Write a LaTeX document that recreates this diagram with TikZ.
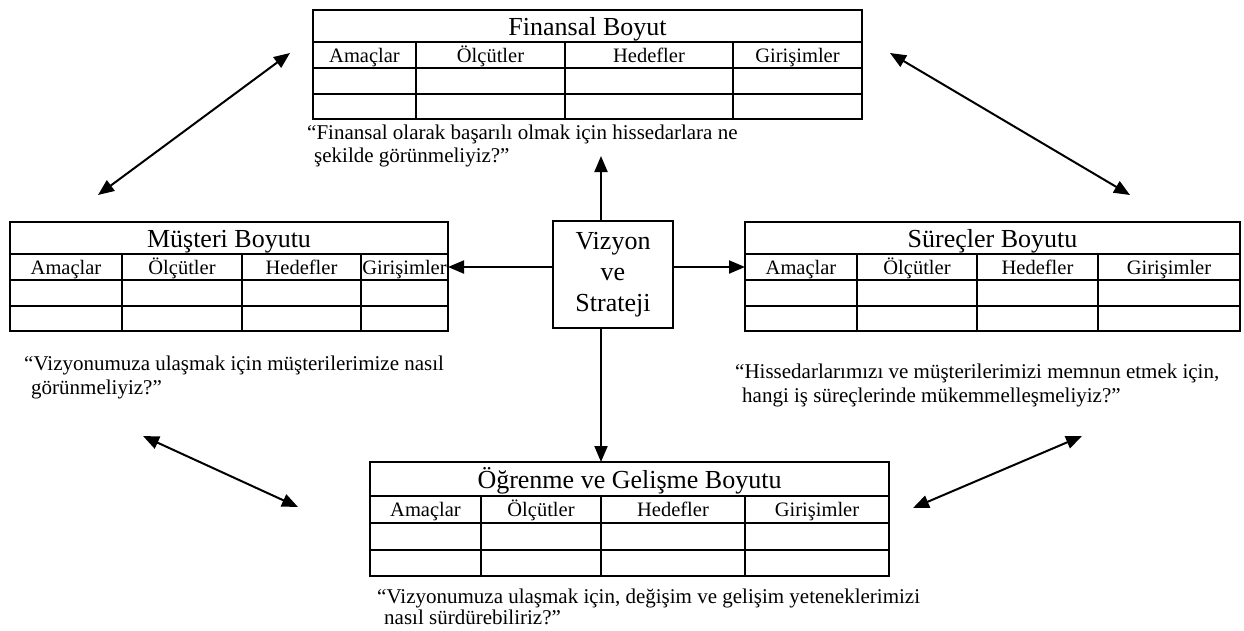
\documentclass[tikz,border=0pt]{standalone}
\usepackage{fontspec}
\setmainfont{Liberation Serif}
\usetikzlibrary{arrows.meta}

\tikzset{
  tabframe/.style={draw, line width=2pt, inner sep=0pt, outer sep=0pt},
  tabline/.style={line width=2pt},
  ttl/.style={inner sep=0pt, anchor=base, font=\fontsize{26}{29}\selectfont},
  hdr/.style={inner sep=0pt, anchor=base, font=\fontsize{20.5}{24}\selectfont},
  % the anchor sits on the baseline of the last line
  qtext/.style={inner sep=0pt, anchor=base west, align=left, font=\fontsize{21}{23.5}\selectfont},
  corebox/.style={draw, line width=2pt, minimum width=120pt, minimum height=107pt,
    align=center, font=\fontsize{26}{31}\selectfont},
  tip/.tip={Triangle[length=16pt,width=13pt]},
  link/.style={line width=2pt, -tip},
  duallink/.style={line width=2pt, tip-tip}
}

% row heights of a table are multiplied by \rowscale
\newcommand{\rowscale}{1}
% #1 name, #2 left, #3 top, #4 right, #5-#7 column dividers, #8 title
\newcommand{\bsctable}[8]{%
  \node[tabframe, anchor=north west, minimum width={#4pt-#2pt}, minimum height={109pt*\rowscale}] (#1) at (#2,#3) {};
  \draw[tabline] (#2,{#3+32*\rowscale}) -- (#4,{#3+32*\rowscale});
  \draw[tabline] (#2,{#3+58*\rowscale}) -- (#4,{#3+58*\rowscale});
  \draw[tabline] (#2,{#3+84*\rowscale}) -- (#4,{#3+84*\rowscale});
  \foreach \cx in {#5,#6,#7} {\draw[tabline] (\cx,{#3+32*\rowscale}) -- (\cx,{#3+109*\rowscale});}
  \coordinate (#1-hl) at (#2,{#3+45*\rowscale});
  \coordinate (#1-hr) at (#4,{#3+45*\rowscale});
  \node[ttl] (#1-title) at ({(#2+#4)/2},{#3+25*\rowscale}) {#8};
  \node[hdr] (#1-c1) at ({(#2+#5)/2},{#3+52*\rowscale}) {Amaçlar};
  \node[hdr] (#1-c2) at ({(#5+#6)/2},{#3+52*\rowscale}) {Ölçütler};
  \node[hdr] (#1-c3) at ({(#6+#7)/2},{#3+52*\rowscale}) {Hedefler};
  \node[hdr] (#1-c4) at ({(#7+#4)/2},{#3+52*\rowscale}) {Girişimler};
}

\begin{document}
\begin{tikzpicture}[x=1pt,y=-1pt]
\useasboundingbox (0,0) rectangle (1244,630);

% the four perspectives
\bsctable{fin}{313}{10}{862}{416}{565}{733}{Finansal Boyut}
\bsctable{mus}{10}{222}{448}{122}{242}{361}{Müşteri Boyutu}
\bsctable{sur}{745}{222}{1240}{857}{977}{1098}{Süreçler Boyutu}
\renewcommand{\rowscale}{1.05}
\bsctable{ogr}{370}{462}{889}{481}{601}{745}{Öğrenme ve Gelişme Boyutu}

% guiding questions
\node[qtext] (q-fin) at (307,162.5) {“Finansal olarak başarılı olmak için hissedarlara ne\\\hspace*{7pt}şekilde görünmeliyiz?”};
\node[qtext] (q-mus) at (24,394) {“Vizyonumuza ulaşmak için müşterilerimize nasıl\\\hspace*{7pt}görünmeliyiz?”};
\node[qtext] (q-sur) at (735,402) {“Hissedarlarımızı ve müşterilerimizi memnun etmek için,\\\hspace*{7pt}hangi iş süreçlerinde mükemmelleşmeliyiz?”};
\node[qtext] (q-ogr) at (377,624) {“Vizyonumuza ulaşmak için, değişim ve gelişim yeteneklerimizi\\[-3pt]\hspace*{7pt}nasıl sürdürebiliriz?”};

% vision and strategy in the middle
\node[corebox] (vs) at (613,274.5) {Vizyon\\ve\\Strateji};

\coordinate (upend) at (601,156);
\draw[link] (vs.north -| upend) -- (upend);
\draw[link] (vs.south -| upend) -- (upend |- ogr.north);
\draw[link] (vs.west |- mus-hr) -- (mus-hr);
\draw[link] (vs.east |- sur-hl) -- (sur-hl);

% links between neighbouring perspectives
\coordinate (tl-a) at (98,195);   \coordinate (tl-b) at (290,53);
\coordinate (tr-a) at (890,53);   \coordinate (tr-b) at (1130,195);
\coordinate (bl-a) at (143,436);  \coordinate (bl-b) at (298,507);
\coordinate (br-a) at (913,508);  \coordinate (br-b) at (1082,436);
\draw[duallink] (tl-a) -- (tl-b);
\draw[duallink] (tr-a) -- (tr-b);
\draw[duallink] (bl-a) -- (bl-b);
\draw[duallink] (br-a) -- (br-b);
\end{tikzpicture}
\end{document}
